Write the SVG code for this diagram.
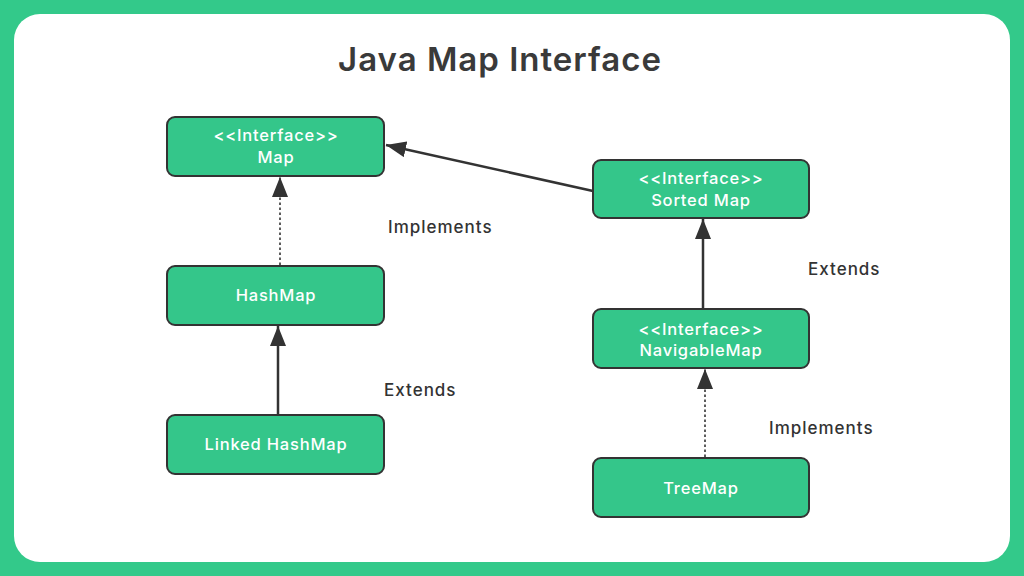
<svg xmlns="http://www.w3.org/2000/svg" width="1024" height="576" viewBox="0 0 1024 576">
<defs>
<style>
.node rect{fill:#34c68a;stroke:#333;stroke-width:2}
.node text{fill:#fff;font-family:Inter,"Noto Sans",sans-serif;font-size:16.5px;font-weight:500;letter-spacing:0.8px;text-anchor:middle}
.lbl{fill:#333;font-family:Inter,"Noto Sans",sans-serif;font-size:17px;font-weight:500;letter-spacing:1px}
.edge{stroke:#333;stroke-width:2.5;fill:none}
.dot{stroke:#333;stroke-width:1.6;fill:none;stroke-dasharray:2.5 2.5}
</style>
<marker id="ah" viewBox="0 0 20 16" refX="20" refY="8" markerWidth="20" markerHeight="16" markerUnits="userSpaceOnUse" orient="auto">
<path d="M0,0 L20,8 L0,16 Z" fill="#333"/>
</marker>
</defs>
<rect x="0" y="0" width="1024" height="576" fill="#33c98a"/>
<rect x="14" y="14" width="996" height="548" rx="26" fill="#fff"/>
<text x="500" y="71" text-anchor="middle" font-family="Inter,'Noto Sans',sans-serif" font-size="33" font-weight="600" letter-spacing="1" fill="#3a3a3a">Java Map Interface</text>
<g id="connectors">
<line class="dot" x1="280" y1="265" x2="280" y2="177" marker-end="url(#ah)"/>
<line class="edge" x1="278" y1="414" x2="278" y2="326" marker-end="url(#ah)"/>
<line class="edge" x1="593" y1="191" x2="386" y2="145" marker-end="url(#ah)"/>
<line class="edge" x1="703" y1="308" x2="703" y2="219" marker-end="url(#ah)"/>
<line class="dot" x1="705" y1="457" x2="705" y2="369" marker-end="url(#ah)"/>
</g>
<text class="lbl" x="388" y="233">Implements</text>
<text class="lbl" x="384" y="396">Extends</text>
<text class="lbl" x="808" y="275">Extends</text>
<text class="lbl" x="769" y="434">Implements</text>
<g id="map" class="node"><rect x="167" y="117" width="217" height="59" rx="8"/><text x="276" y="141">&lt;&lt;Interface&gt;&gt;</text><text x="276" y="163">Map</text></g>
<g id="hashmap" class="node"><rect x="167" y="266" width="217" height="59" rx="8"/><text x="276" y="301">HashMap</text></g>
<g id="linkedhashmap" class="node"><rect x="167" y="415" width="217" height="59" rx="8"/><text x="276" y="450">Linked HashMap</text></g>
<g id="sortedmap" class="node"><rect x="593" y="160" width="216" height="58" rx="8"/><text x="701" y="184">&lt;&lt;Interface&gt;&gt;</text><text x="701" y="206">Sorted Map</text></g>
<g id="navigablemap" class="node"><rect x="593" y="309" width="216" height="59" rx="8"/><text x="701" y="335">&lt;&lt;Interface&gt;&gt;</text><text x="701" y="356">NavigableMap</text></g>
<g id="treemap" class="node"><rect x="593" y="458" width="216" height="59" rx="8"/><text x="701" y="494">TreeMap</text></g>
</svg>
